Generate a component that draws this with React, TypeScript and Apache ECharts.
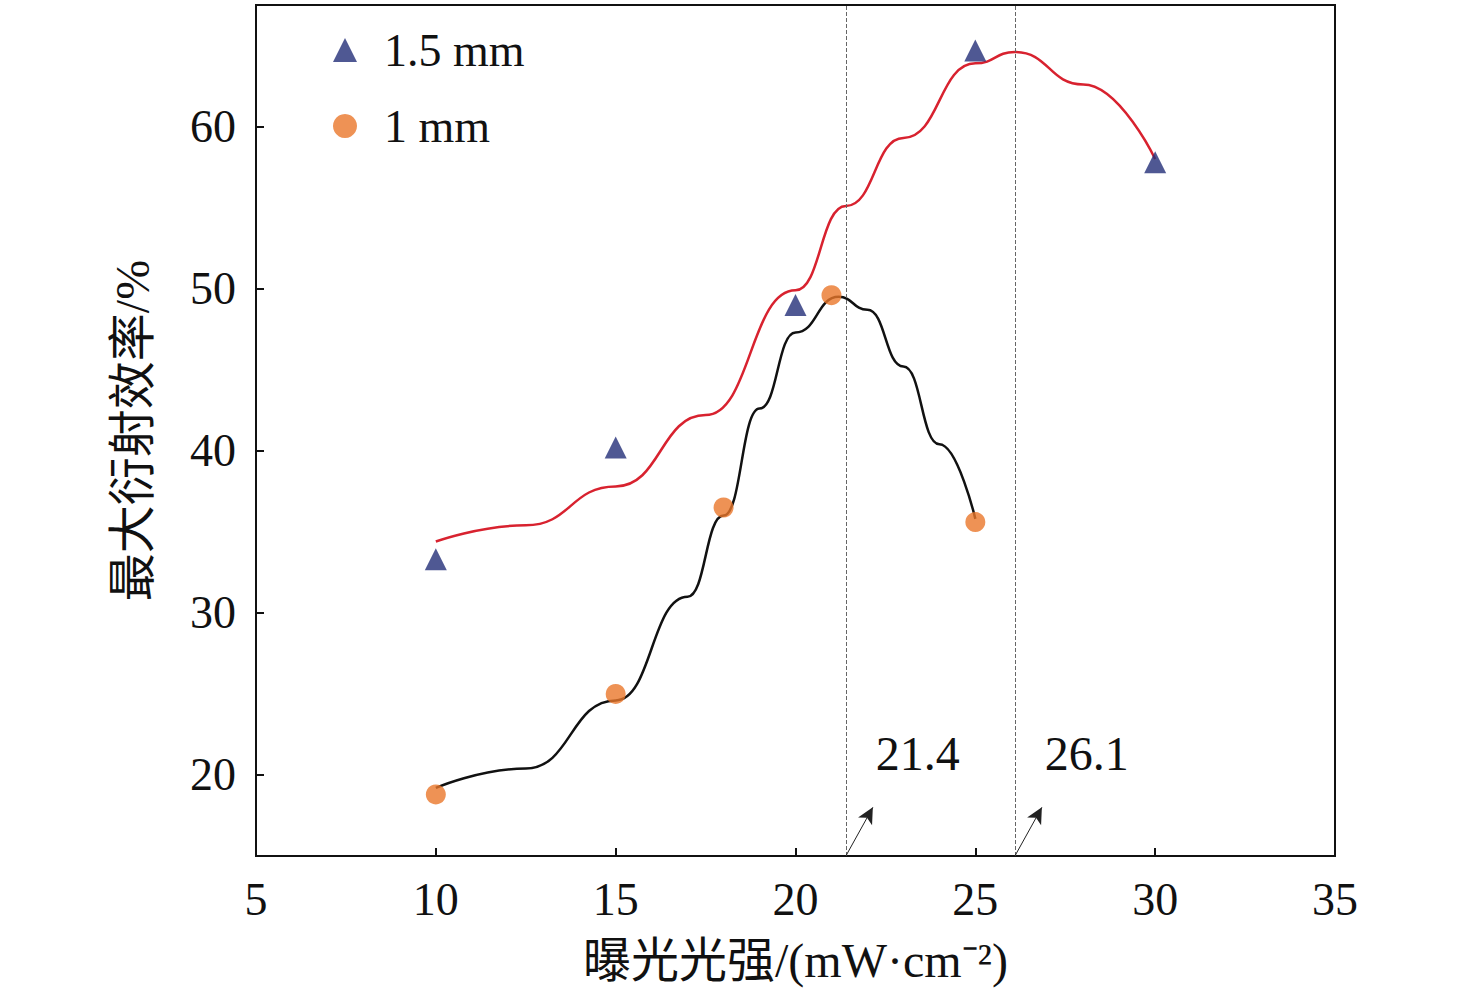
import React, { useEffect, useRef } from "react";
import * as echarts from "echarts";

const thickPoints = [[10, 33.3], [15, 40.2], [20, 49.0], [25, 64.7], [30, 57.8]];
const thinPoints = [[10, 18.8], [15, 25.0], [18, 36.5], [21, 49.6], [25, 35.6]];
const thickFit = [
  [10, 34.4], [12.5, 35.4], [15, 37.8], [17.5, 42.2], [20, 49.9], [21.4, 55.1],
  [23, 59.3], [25, 63.9], [26.1, 64.6], [28, 62.6], [30, 58.0],
];
const thinFit = [
  [10, 19.2], [12.5, 20.4], [15, 24.6], [17, 31.0], [18, 36.0], [19, 42.6],
  [20, 47.3], [21.2, 49.5], [22, 48.7], [23, 45.2], [24, 40.4], [25, 35.8],
];
const peaks = [21.4, 26.1];
const yTicks = [20, 30, 40, 50, 60];

const FONT = "'Liberation Serif', 'Noto Sans CJK SC', serif";

const App = () => {
  const chartRef = useRef<HTMLDivElement>(null);

  useEffect(() => {
    document.body.style.margin = "0";
    if (!chartRef.current) return;
    const chart = echarts.init(chartRef.current, undefined, { renderer: "svg" });

    chart.setOption({
      animation: false,
      backgroundColor: "#fff",
      grid: {
        left: 256, right: 141, top: 5, bottom: 140,
        show: true, borderColor: "#111", borderWidth: 2,
      },
      legend: {
        orient: "vertical",
        left: 328, top: 22, itemGap: 30,
        itemWidth: 24, itemHeight: 24,
        textStyle: { fontFamily: FONT, fontSize: 46, color: "#111", padding: [0, 0, 0, 22] },
        data: [
          { name: "1.5 mm", icon: "triangle" },
          { name: "1 mm", icon: "circle" },
        ],
      },
      xAxis: {
        type: "value", min: 5, max: 35, interval: 5,
        name: "曝光光强/(mW·cm⁻²)", nameLocation: "middle", nameGap: 80,
        nameTextStyle: { fontFamily: FONT, fontSize: 48, color: "#111" },
        axisLine: { lineStyle: { color: "#111", width: 2 } },
        axisTick: { inside: true, length: 8, lineStyle: { color: "#111", width: 2 } },
        axisLabel: { fontFamily: FONT, fontSize: 46, color: "#111", margin: 20 },
        splitLine: { show: false },
      },
      yAxis: {
        type: "value", min: 15, max: 67.5,
        name: "最大衍射效率/%", nameLocation: "middle", nameGap: 100, nameRotate: 90,
        nameTextStyle: { fontFamily: FONT, fontSize: 48, color: "#111" },
        axisLine: { lineStyle: { color: "#111", width: 2 } },
        axisTick: { inside: true, length: 8, customValues: yTicks, lineStyle: { color: "#111", width: 2 } },
        axisLabel: { fontFamily: FONT, fontSize: 46, color: "#111", margin: 20, customValues: yTicks },
        splitLine: { show: false },
      },
      series: [
        {
          name: "1.5 mm", type: "scatter", data: thickPoints, symbol: "triangle",
          symbolSize: 22, itemStyle: { color: "#232e78" }, z: 4,
        },
        {
          name: "1 mm", type: "scatter", data: thinPoints, symbol: "circle",
          symbolSize: 20, itemStyle: { color: "#ea772a" }, z: 4,
        },
        {
          type: "line", data: thickFit, smooth: true, smoothMonotone: "x", showSymbol: false, symbol: "none",
          lineStyle: { color: "#d8222f", width: 2.5 }, z: 3,
          markLine: {
            silent: true, symbol: "none", label: { show: false },
            lineStyle: { color: "#666", type: "dashed", width: 1 },
            data: peaks.map((p) => ({ xAxis: p })),
          },
        },
        {
          type: "line", data: thinFit, smooth: true, smoothMonotone: "x", showSymbol: false, symbol: "none",
          lineStyle: { color: "#111", width: 2.5 }, z: 3,
        },
        {
          type: "scatter", data: [], silent: true,
          markLine: {
            silent: true,
            symbol: ["none", "arrow"],
            symbolSize: [12, 16],
            lineStyle: { color: "#222", width: 1, type: "solid" },
            label: {
              show: true, position: "end", distance: [0, 0],
              fontFamily: FONT, fontSize: 48, color: "#111",
              offset: [0, 0],
              formatter: (d: any) => d.name,
              padding: [0, 0, 30, 90],
            },
            data: peaks.map((p) => [
              { coord: [p, 15], name: String(p) },
              { coord: [p + 0.75, 18] },
            ]),
          },
        },
      ],
    } as any);

    return () => chart.dispose();
  }, []);

  return <div ref={chartRef} style={{ width: 1476, height: 996 }} />;
};

export default App;
